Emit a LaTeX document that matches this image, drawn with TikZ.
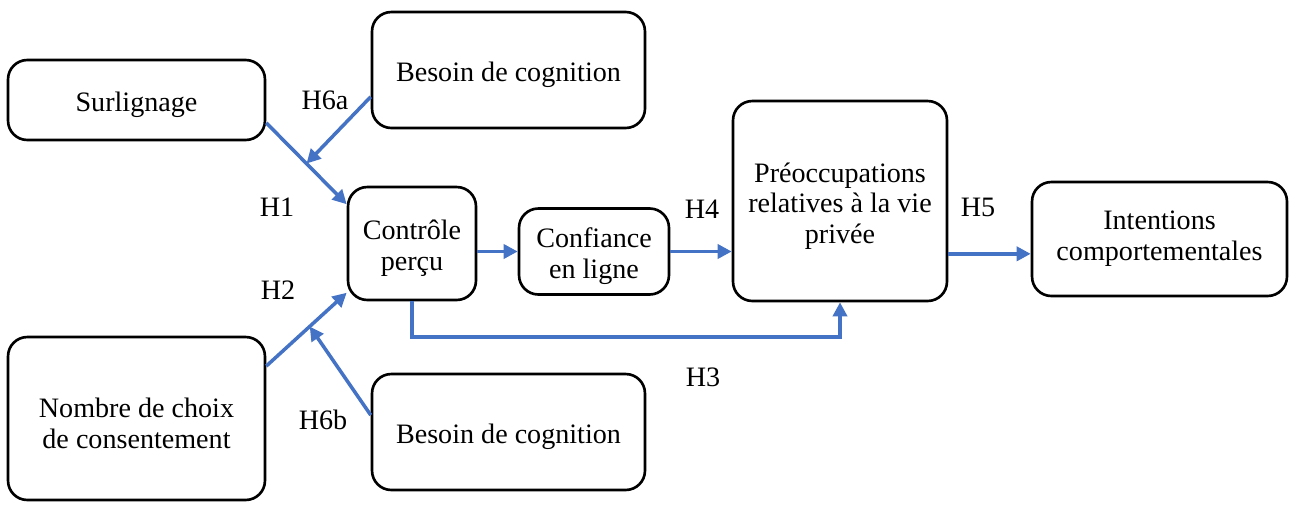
\documentclass[tikz,border=0pt]{standalone}
\usepackage{fontspec}
\setmainfont{Liberation Serif}
\usetikzlibrary{positioning, calc, arrows.meta}
\definecolor{linkblue}{HTML}{4472C4}
\newcommand{\topstrut}{\rule{0pt}{17pt}}
\tikzset{
	varbox/.style={draw, line width=1.5pt, rounded corners=11pt, align=center, inner sep=0pt, font=\fontsize{16}{17.6}\selectfont},
	hyp/.style={font=\fontsize{16}{17.6}\selectfont},
	link/.style={->, draw=linkblue, line width=2pt}
}

\begin{document}
\begin{tikzpicture}[>={Triangle[length=8pt, width=8pt]}, x=0.02cm, y=-0.02cm]
	\useasboundingbox (0, 0) rectangle (1290, 504);
	\node[varbox, minimum width=5.14cm, minimum height=1.6cm] (surl) at (136.5, 100) {\topstrut Surlignage};
	\node[varbox, minimum width=5.46cm, minimum height=2.32cm] (bes1) at (508.5, 70) {\topstrut Besoin de cognition};
	\node[varbox, minimum width=2.56cm, minimum height=2.26cm] (ctrl) at (412, 243.5) {\topstrut Contrôle\\perçu};
	\node[varbox, minimum width=3cm, minimum height=1.72cm] (conf) at (594, 251.5) {\topstrut Confiance\\en ligne};
	\node[varbox, minimum width=4.28cm, minimum height=4cm] (preo) at (840, 201) {\topstrut Préoccupations\\relatives à la vie\\privée};
	\node[varbox, minimum width=5.1cm, minimum height=2.28cm] (inte) at (1159.5, 239) {Intentions\\comportementales};
	\node[varbox, minimum width=5.14cm, minimum height=3.26cm] (nomb) at (136.5, 418.5) {\topstrut Nombre de choix\\de consentement};
	\node[varbox, minimum width=5.46cm, minimum height=2.32cm] (bes2) at (508.5, 432) {\topstrut Besoin de cognition};

	\coordinate (m1) at ($(surl.-10)!0.5!(ctrl.149)$);
	\coordinate (m2) at ($(nomb.22.6)!0.54!(ctrl.217)$);
	\coordinate (h3) at (626, 337);

	\draw[link] (surl.-10) -- (ctrl.149);
	\draw[link] (nomb.22.6) -- (ctrl.217);
	\draw[link] (bes1.191) -- (m1);
	\draw[link] (bes2.173) -- (m2);
	\draw[link] (ctrl.east |- conf.west) -- (conf.west);
	\draw[link] (conf.east) -- (conf.east -| preo.west);
	\draw[link] (preo.-26) -- (preo.-26 -| inte.west);
	\draw[link] (ctrl.south) |- (h3) -| (preo.south);

	\node[hyp] (h6a) at (325, 100) {H6a};
	\node[hyp] (h1) at (277, 207) {H1};
	\node[hyp] (h2) at (278, 290) {H2};
	\node[hyp] (h6b) at (323, 420) {H6b};
	\node[hyp] (h4) at (702, 209) {H4};
	\node[hyp] (h3l) at (703, 377) {H3};
	\node[hyp] (h5) at (978, 207) {H5};
\end{tikzpicture}
\end{document}
